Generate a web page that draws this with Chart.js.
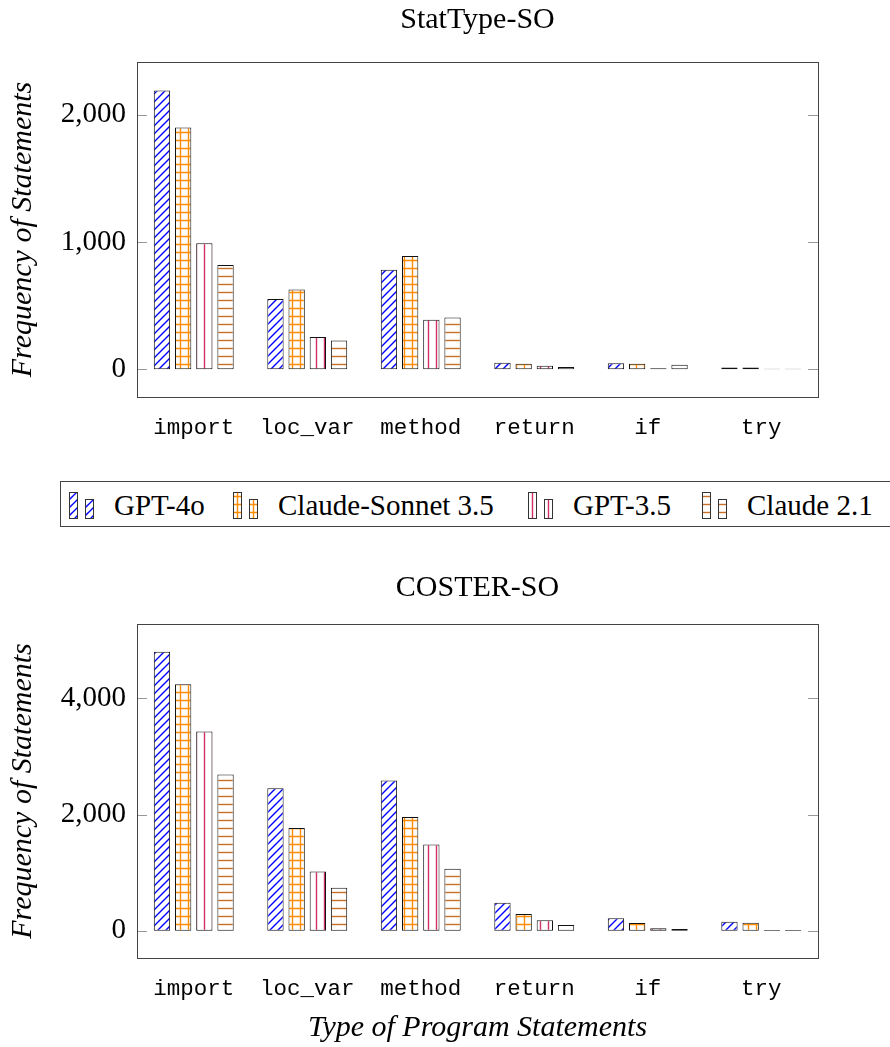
<!DOCTYPE html>
<html>
<head>
<meta charset="utf-8">
<script src="https://cdn.jsdelivr.net/npm/chart.js@4.4.1/dist/chart.umd.min.js"></script>
<style>
    body { margin: 0; background: #fff; width: 890px; height: 1047px; overflow: hidden; position: relative; }
    canvas.chart { position: absolute; left: 0; }
    #topChart { top: 0; }
    #bottomChart { top: 560px; }
    .legend {
        position: absolute; left: 60px; top: 481px; width: 850px; height: 46px;
        border: 1px solid #444; box-sizing: border-box;
        font-family: "Liberation Serif", serif; font-size: 29px; color: #000;
    }
    .legend .item { position: absolute; top: 0; height: 46px; display: flex; align-items: center; white-space: nowrap; }
    .legend canvas { margin-right: 20px; }
</style>
</head>
<body>
<canvas id="topChart" class="chart" width="890" height="440"></canvas>
<div class="legend" id="legend"></div>
<canvas id="bottomChart" class="chart" width="890" height="487"></canvas>

<script>
// categories and series
const categories = ['import', 'loc_var', 'method', 'return', 'if', 'try'];
const seriesNames = ['GPT-4o', 'Claude-Sonnet 3.5', 'GPT-3.5', 'Claude 2.1'];

// StatType-SO
const statGpt4o     = [2190, 551, 782, 52, 47, 14];
const statSonnet    = [1900, 627, 890, 44, 44, 14];
const statGpt35     = [990, 254, 388, 28, 8, 4];
const statClaude21  = [820, 226, 407, 18, 36, 4];
const statTicks     = [0, 1000, 2000];

// COSTER-SO
const costerGpt4o    = [4800, 2453, 2585, 481, 213, 155];
const costerSonnet   = [4240, 1766, 1955, 287, 132, 138];
const costerGpt35    = [3430, 1021, 1485, 179, 41, 12];
const costerClaude21 = [2690, 739, 1066, 98, 29, 12];
const costerTicks    = [0, 2000, 4000];

const serifFont = '"Liberation Serif", serif';
const monoFont = '"Liberation Mono", monospace';

// build a fill pattern like the pgfplots ones
function makePattern(kind, color){
    const size = 8;
    const c = document.createElement('canvas');
    c.width = size; c.height = size;
    const ctx = c.getContext('2d');
    ctx.fillStyle = '#fff';
    ctx.fillRect(0, 0, size, size);
    ctx.strokeStyle = color;
    ctx.lineWidth = 1.4;
    ctx.beginPath();
    if(kind == 'diag'){
        ctx.moveTo(-1, size + 1); ctx.lineTo(size + 1, -1);
        ctx.moveTo(-1, 1); ctx.lineTo(1, -1);
        ctx.moveTo(size - 1, size + 1); ctx.lineTo(size + 1, size - 1);
    }else if(kind == 'grid'){
        ctx.moveTo(0, 4.5); ctx.lineTo(size, 4.5);
        ctx.moveTo(4.5, 0); ctx.lineTo(4.5, size);
    }else if(kind == 'vert'){
        ctx.moveTo(4.5, 0); ctx.lineTo(4.5, size);
    }else if(kind == 'horiz'){
        ctx.moveTo(0, 4.5); ctx.lineTo(size, 4.5);
    };
    ctx.stroke();
    return ctx.createPattern(c, 'repeat');
};

const patterns = [
    makePattern('diag', '#0000ff'),
    makePattern('grid', '#ff8c00'),
    makePattern('vert', '#d0306a'),
    makePattern('horiz', '#c87028')
];

// center the chart title over the plot area instead of the whole canvas
const titlePlugin = {
    id: 'titleOverPlot',
    afterLayout(chart){
        const t = chart.titleBlock;
        if(t){
            t.left = chart.chartArea.left;
            t.right = chart.chartArea.right;
        };
    }
};

// frame around the plot area and inside ticks on both sides
const framePlugin = {
    id: 'frame',
    afterDraw(chart){
        const {ctx, chartArea} = chart;
        const y = chart.scales.y;
        ctx.save();
        ctx.strokeStyle = '#999';
        ctx.lineWidth = 1;
        y.ticks.forEach((t) => {
            const py = Math.round(y.getPixelForValue(t.value)) + 0.5;
            ctx.beginPath();
            ctx.moveTo(chartArea.left, py); ctx.lineTo(chartArea.left + 10, py);
            ctx.moveTo(chartArea.right - 10, py); ctx.lineTo(chartArea.right, py);
            ctx.stroke();
        });
        ctx.strokeStyle = '#444';
        ctx.strokeRect(Math.round(chartArea.left) + 0.5, Math.round(chartArea.top) + 0.5,
            Math.round(chartArea.right - chartArea.left), Math.round(chartArea.bottom - chartArea.top));
        ctx.restore();
    }
};

function makeChart(canvasId, opts){
    const datasets = opts.series.map((data, i) => ({
        label: seriesNames[i],
        data: data,
        backgroundColor: patterns[i],
        borderColor: '#111',
        borderWidth: 1,
        borderSkipped: false,
        categoryPercentage: 0.747,
        barPercentage: 0.77
    }));

    return new Chart(document.getElementById(canvasId), {
        type: 'bar',
        data: { labels: categories, datasets: datasets },
        plugins: [titlePlugin, framePlugin],
        options: {
            responsive: false,
            animation: false,
            devicePixelRatio: 1,
            layout: { padding: { left: 0, right: 72, top: 0, bottom: 0 } },
            plugins: {
                legend: { display: false },
                tooltip: { enabled: false },
                title: {
                    display: true,
                    text: opts.title,
                    color: '#000',
                    font: { family: serifFont, size: 30, weight: 'normal', lineHeight: 1.2 },
                    padding: opts.titlePadding
                }
            },
            scales: {
                x: {
                    grid: { display: false },
                    border: { display: false },
                    ticks: { color: '#000', padding: 10, font: { family: monoFont, size: 22.5 } },
                    title: {
                        display: opts.xTitle != null,
                        text: opts.xTitle || '',
                        color: '#000',
                        font: { family: serifFont, size: 30, style: 'italic', lineHeight: 1.2 },
                        padding: { top: 0, bottom: 1 }
                    },
                    afterFit: (s) => { s.height = opts.xHeight; }
                },
                y: {
                    min: opts.min,
                    max: opts.max,
                    grid: { display: false, drawTicks: false },
                    border: { display: false },
                    afterBuildTicks: (s) => { s.ticks = opts.ticks.map((v) => ({ value: v })); },
                    ticks: {
                        color: '#000',
                        padding: 11,
                        font: { family: serifFont, size: 29 },
                        callback: (v) => v.toLocaleString('en-US')
                    },
                    title: {
                        display: true,
                        text: 'Frequency of Statements',
                        color: '#000',
                        font: { family: serifFont, size: 30, style: 'italic', lineHeight: 1.2 },
                        padding: { top: 5, bottom: 0 }
                    },
                    afterFit: (s) => { s.width = 137; }
                }
            }
        }
    });
};

makeChart('topChart', {
    title: 'StatType-SO',
    titlePadding: { top: 2, bottom: 24 },
    series: [statGpt4o, statSonnet, statGpt35, statClaude21],
    ticks: statTicks,
    min: -218, max: 2414,
    xHeight: 43,
    xTitle: null
});

makeChart('bottomChart', {
    title: 'COSTER-SO',
    titlePadding: { top: 10, bottom: 18 },
    series: [costerGpt4o, costerSonnet, costerGpt35, costerClaude21],
    ticks: costerTicks,
    min: -470, max: 5279,
    xHeight: 89,
    xTitle: 'Type of Program Statements'
});

// shared legend between the two charts
const legendLeft = [8, 172, 467, 641];
const legend = document.getElementById('legend');
seriesNames.forEach((name, i) => {
    const item = document.createElement('div');
    item.className = 'item';
    item.style.left = legendLeft[i] + 'px';

    const sw = document.createElement('canvas');
    sw.width = 25; sw.height = 27;
    const ctx = sw.getContext('2d');
    ctx.fillStyle = patterns[i];
    ctx.strokeStyle = '#333';
    ctx.lineWidth = 1;
    ctx.fillRect(0.5, 0.5, 8, 26); ctx.strokeRect(0.5, 0.5, 8, 26);
    ctx.fillRect(16.5, 7.5, 8, 19); ctx.strokeRect(16.5, 7.5, 8, 19);

    const label = document.createElement('span');
    label.textContent = name;

    item.appendChild(sw);
    item.appendChild(label);
    legend.appendChild(item);
});
</script>
</body>
</html>
